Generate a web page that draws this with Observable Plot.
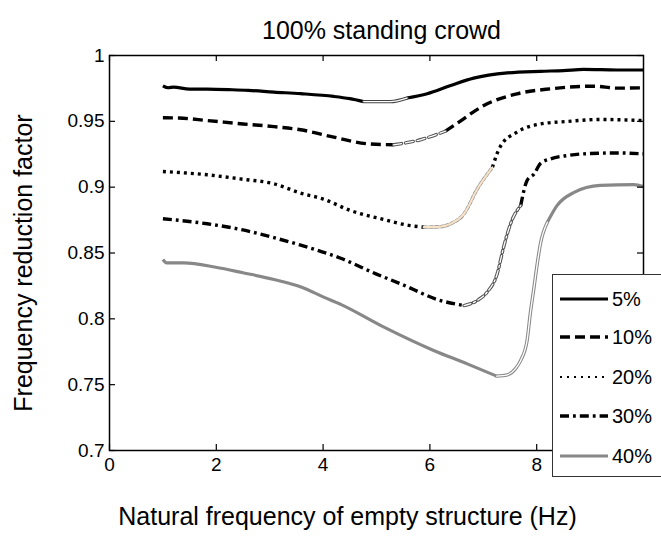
<!DOCTYPE html>
<html>
<head>
<meta charset="utf-8">
<script src="https://cdn.jsdelivr.net/npm/d3@7"></script>
<script src="https://cdn.jsdelivr.net/npm/@observablehq/plot@0.6"></script>
<style>
  html, body { margin: 0; padding: 0; background: #fff; overflow: hidden; }
  #wrap { position: relative; width: 661px; height: 544px; overflow: hidden; font-family: "Liberation Sans", Arial, sans-serif; }
  #legend { position: absolute; left: 552px; top: 274px; width: 130px; height: 201px; border: 1.5px solid #333; background: #fff; }
</style>
</head>
<body>
<div id="wrap"></div>
<script>
// ---- data ----
const titleText = "100% standing crowd";
const xLabel = "Natural frequency of empty structure (Hz)";
const yLabel = "Frequency reduction factor";
const xTicks = [0, 2, 4, 6, 8];
const yTicks = [0.7, 0.75, 0.8, 0.85, 0.9, 0.95, 1];
const seriesNames = ["5%", "10%", "20%", "30%", "40%"];

const x5 = [1.0, 1.1, 1.2, 1.5, 1.83, 2.3, 2.6, 3.08, 3.58, 4.2, 4.5, 4.76, 5.0, 5.26, 5.57, 5.95, 6.39, 6.82, 7.45, 8.07, 8.5, 8.88, 9.5, 10];
const y5 = [0.977, 0.9755, 0.976, 0.9745, 0.9745, 0.974, 0.9735, 0.9722, 0.971, 0.9689, 0.9672, 0.965, 0.965, 0.965, 0.9677, 0.971, 0.9772, 0.9828, 0.9868, 0.988, 0.9885, 0.9894, 0.989, 0.989];
const t5 = [4.76, 5.57];

const x10 = [1.0, 1.3, 1.83, 2.5, 3.08, 3.58, 4.2, 4.83, 5.32, 5.82, 6.29, 6.51, 7.01, 7.63, 8.26, 9.07, 9.5, 10];
const y10 = [0.9527, 0.9525, 0.9506, 0.948, 0.946, 0.9436, 0.938, 0.933, 0.9322, 0.936, 0.9425, 0.9485, 0.962, 0.9709, 0.9747, 0.9767, 0.9752, 0.9755];
const t10 = [5.32, 6.29];

const x20 = [1.0, 1.83, 2.5, 3.08, 3.58, 4.0, 4.51, 5.14, 5.6, 5.89, 6.2, 6.39, 6.64, 6.89, 7.17, 7.32, 7.63, 8.07, 8.57, 9.19, 10];
const y20 = [0.9119, 0.9094, 0.906, 0.9026, 0.8955, 0.891, 0.8823, 0.8754, 0.871, 0.8696, 0.870, 0.8722, 0.8798, 0.8988, 0.915, 0.931, 0.9418, 0.948, 0.9499, 0.9514, 0.9506];
const t20 = [5.89, 7.17];

const x30 = [1.0, 1.83, 2.5, 3.08, 3.58, 4.33, 5.0, 5.45, 6.2, 6.64, 6.89, 7.07, 7.26, 7.38, 7.51, 7.7, 7.82, 7.95, 8.07, 8.26, 8.57, 8.88, 9.5, 10];
const y30 = [0.876, 0.8722, 0.8675, 0.8616, 0.856, 0.846, 0.834, 0.8266, 0.8139, 0.8101, 0.814, 0.8202, 0.8342, 0.8544, 0.8722, 0.886, 0.9051, 0.910, 0.918, 0.9215, 0.924, 0.9253, 0.926, 0.9253];
const t30 = [6.64, 7.7];

const x40 = [1.0, 1.07, 1.39, 1.99, 2.5, 3.08, 3.6, 4.01, 4.33, 5.14, 6.07, 6.7, 7.25, 7.45, 7.6, 7.7, 7.82, 7.88, 7.95, 8.01, 8.07, 8.2, 8.38, 8.7, 9.19, 9.82, 10];
const y40 = [0.8451, 0.8425, 0.8425, 0.8392, 0.835, 0.8299, 0.824, 0.8165, 0.811, 0.7937, 0.776, 0.7658, 0.7565, 0.7575, 0.762, 0.7684, 0.7836, 0.804, 0.824, 0.8418, 0.857, 0.8734, 0.886, 0.896, 0.9013, 0.902, 0.9005];
const t40 = [7.25, 8.2];

// ---- styles ----
const styles = [
  {stroke: "#000", strokeWidth: 3.2, dash: null, cap: "butt", hollowOuter: "#444", hollowInner: "#fff", hollowDash: null},
  {stroke: "#000", strokeWidth: 3.4, dash: "10,5", cap: "butt", hollowOuter: "#555", hollowInner: "#fff", hollowDash: "8,4"},
  {stroke: "#000", strokeWidth: 3.4, dash: "3,4", cap: "butt", hollowOuter: "#888", hollowInner: "#f7e2c8", hollowDash: "3,2.5"},
  {stroke: "#000", strokeWidth: 3.4, dash: "9,4,2.8,4", cap: "butt", hollowOuter: "#555", hollowInner: "#fff", hollowDash: "7,3,2,3"},
  {stroke: "#888", strokeWidth: 3.2, dash: null, cap: "butt", hollowOuter: "#888", hollowInner: "#fff", hollowDash: null}
];

const allX = [x5, x10, x20, x30, x40];
const allY = [y5, y10, y20, y30, y40];
const allT = [t5, t10, t20, t30, t40];

const marks = [];
allX.forEach((xs, i) => {
  const pts = xs.map((x, j) => ({x, y: allY[i][j]}));
  const [a, b] = allT[i];
  const pre = pts.filter(p => p.x <= a);
  const mid = pts.filter(p => p.x >= a && p.x <= b);
  const post = pts.filter(p => p.x >= b);
  const s = styles[i];
  for (const seg of [pre, post]) {
    marks.push(Plot.line(seg, {x: "x", y: "y", stroke: s.stroke, strokeWidth: s.strokeWidth,
      strokeDasharray: s.dash, strokeLinecap: s.cap, curve: "monotone-x"}));
  }
  marks.push(Plot.line(mid, {x: "x", y: "y", stroke: s.hollowOuter, strokeWidth: 3.4,
    strokeDasharray: s.hollowDash, curve: "monotone-x"}));
  marks.push(Plot.line(mid, {x: "x", y: "y", stroke: s.hollowInner, strokeWidth: i === 2 ? 2.2 : 1.3,
    strokeDasharray: i === 2 ? null : s.hollowDash, curve: "monotone-x"}));
});

const plot = Plot.plot({
  width: 661,
  height: 544,
  marginLeft: 109,
  marginRight: 18,
  marginTop: 55,
  marginBottom: 94,
  style: {fontFamily: "'Liberation Sans', Arial, sans-serif", fontSize: "19px", background: "#fff", color: "#000", overflow: "visible"},
  x: {domain: [0, 10]},
  y: {domain: [0.7, 1]},
  marks: [
    ...marks,
    Plot.frame({stroke: "#000", strokeWidth: 1.5}),
    Plot.tickX(xTicks, {x: d => d, insetTop: 389, stroke: "#000", strokeWidth: 1.2}),
    Plot.tickX(xTicks, {x: d => d, insetBottom: 389, stroke: "#000", strokeWidth: 1.2}),
    Plot.tickY(yTicks, {y: d => d, insetRight: 528, stroke: "#000", strokeWidth: 1.2}),
    Plot.tickY(yTicks, {y: d => d, insetLeft: 528, stroke: "#000", strokeWidth: 1.2}),
    Plot.axisX({ticks: xTicks, tickSize: 0, tickPadding: 7, fontSize: 19, tickFormat: d => String(d), label: null}),
    Plot.axisY({ticks: yTicks, tickSize: 0, tickPadding: 5, fontSize: 19, tickFormat: d => String(d), label: null}),
    Plot.text([titleText], {text: d => d, frameAnchor: "top", dx: 5, dy: -34, fontSize: 25}),
    Plot.text([xLabel], {text: d => d, frameAnchor: "bottom", dx: -29, dy: 74, fontSize: 25}),
    Plot.text([yLabel], {text: d => d, frameAnchor: "left", textAnchor: "middle", rotate: -90, dx: -86, dy: 10, fontSize: 25})
  ]
});

const wrap = document.getElementById("wrap");
wrap.appendChild(plot);

// ---- legend ----
const legend = document.createElement("div");
legend.id = "legend";
const rowY = [24, 62, 102, 141, 181];
let svg = '<svg width="130" height="201" xmlns="http://www.w3.org/2000/svg" style="font-family:\'Liberation Sans\', Arial, sans-serif">';
seriesNames.forEach((name, i) => {
  const s = styles[i];
  const dash = i === 2 ? "2,5" : (s.dash || "");
  const w = i === 2 ? 2.2 : s.strokeWidth;
  svg += `<line x1="7" x2="55" y1="${rowY[i]}" y2="${rowY[i]}" stroke="${s.stroke}" stroke-width="${w}" ${dash ? `stroke-dasharray="${dash}"` : ""} stroke-linecap="${s.cap}"/>`;
  svg += `<text x="59" y="${rowY[i]}" dy="0.35em" font-size="20" fill="#000">${name}</text>`;
});
svg += '</svg>';
legend.innerHTML = svg;
wrap.appendChild(legend);
</script>
</body>
</html>
